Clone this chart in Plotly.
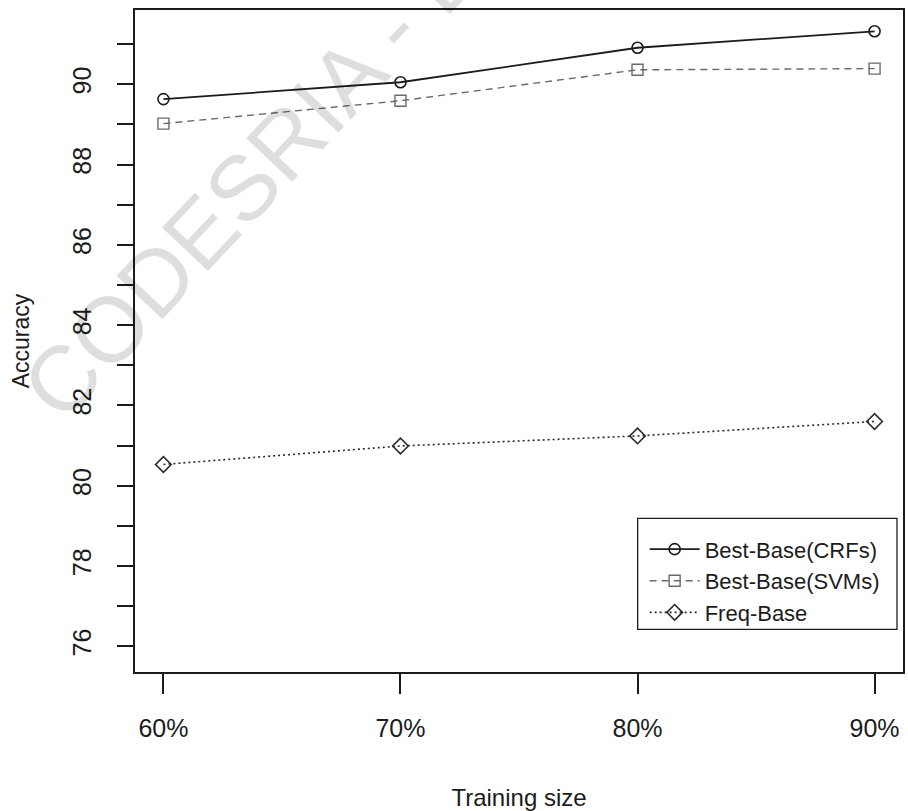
import plotly.graph_objects as go

# Accuracy by training-set size for three tagging baselines
train_size = [60, 70, 80, 90]
train_labels = ["60%", "70%", "80%", "90%"]
crf_acc = [89.63, 90.05, 90.91, 91.32]
svm_acc = [89.02, 89.59, 90.36, 90.39]
freq_acc = [80.53, 80.99, 81.24, 81.60]

y_ticks = list(range(76, 92))
y_ticktext = [str(v) if v % 2 == 0 else "" for v in y_ticks]

FONT = "Liberation Sans, Arial, sans-serif"
INK = "#1c1c1c"

fig = go.Figure()

fig.add_trace(go.Scatter(
    x=train_size, y=crf_acc, name="Best-Base(CRFs)", mode="lines+markers",
    line=dict(color=INK, width=1.8),
    marker=dict(symbol="circle-open", size=11, color=INK, line=dict(width=1.6)),
))
fig.add_trace(go.Scatter(
    x=train_size, y=svm_acc, name="Best-Base(SVMs)", mode="lines+markers",
    line=dict(color="#6a6a6a", width=1.4, dash="7px,5px"),
    marker=dict(symbol="square-open", size=11, color="#6a6a6a", line=dict(width=1.4)),
))
fig.add_trace(go.Scatter(
    x=train_size, y=freq_acc, name="Freq-Base", mode="lines+markers",
    line=dict(color="#2a2a2a", width=1.6, dash="2px,3px"),
    marker=dict(symbol="diamond-open", size=12, color="#2a2a2a", line=dict(width=1.6)),
))

# Library watermark stamped diagonally across the page
fig.add_annotation(
    text="CODESRIA - LIBRARY", xref="paper", yref="paper",
    x=0.299, y=0.928, xanchor="center", yanchor="middle",
    showarrow=False, textangle=-46.7,
    font=dict(family=FONT, size=92, color="rgba(0,0,0,0.13)"),
)

# Framed legend panel in the lower-right corner of the plot
fig.add_shape(
    type="rect", xref="paper", yref="paper", layer="above",
    x0=0.6545, x1=0.9922, y0=0.0644, y1=0.2320,
    line=dict(color=INK, width=1.3), fillcolor="white",
)

fig.update_layout(
    width=908, height=811,
    margin=dict(l=135, r=3, t=10, b=133),
    paper_bgcolor="white", plot_bgcolor="white",
    font=dict(family=FONT, size=25, color=INK),
    showlegend=True,
    legend=dict(
        x=0.6636, y=0.217, xanchor="left", yanchor="top",
        borderwidth=0, bgcolor="rgba(0,0,0,0)",
        font=dict(family=FONT, size=22, color=INK),
        tracegroupgap=0, itemwidth=50,
    ),
)

fig.update_xaxes(
    range=[58.8, 91.2], tickvals=train_size, ticktext=train_labels,
    showgrid=False, zeroline=False,
    showline=True, linecolor=INK, linewidth=1.6, mirror=True,
    ticks="outside", ticklen=20, tickwidth=1.5, tickcolor=INK,
    ticklabelstandoff=13,
    tickfont=dict(family=FONT, size=25, color=INK),
    title=dict(text="Training size", standoff=49,
               font=dict(family=FONT, size=24, color=INK)),
)
fig.update_yaxes(
    range=[75.36, 91.85], tickvals=y_ticks, ticktext=y_ticktext,
    showgrid=False, zeroline=False,
    showline=True, linecolor=INK, linewidth=1.6, mirror=True,
    ticks="outside", ticklen=16, tickwidth=1.5, tickcolor=INK,
    tickangle=-90, ticklabelstandoff=16,
    tickfont=dict(family=FONT, size=25, color=INK),
    title=dict(text="Accuracy", standoff=32,
               font=dict(family=FONT, size=23, color=INK)),
)

fig.write_html("out.html")
